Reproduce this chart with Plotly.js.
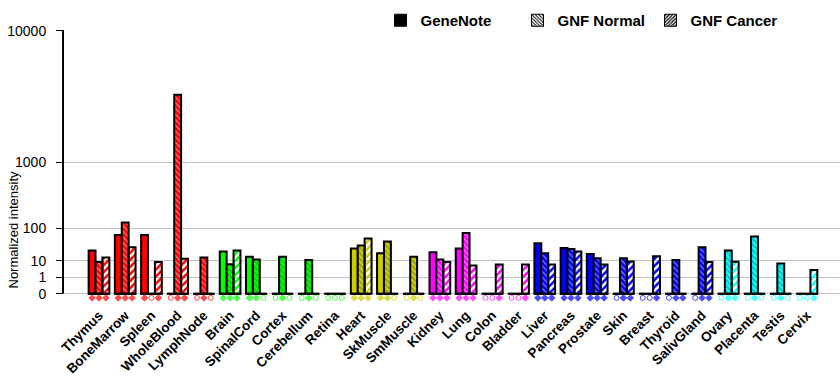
<!DOCTYPE html>
<html><head><meta charset="utf-8">
<script src="https://cdn.plot.ly/plotly-3.0.1.min.js"></script>
<style>html,body{margin:0;padding:0;background:#fff}</style>
</head><body><div id="chart" style="width:840px;height:385px"></div>
<script>
// ---------- data ----------
const tissues = ['Thymus','BoneMarrow','Spleen','WholeBlood','LymphNode','Brain','SpinalCord','Cortex','Cerebellum','Retina','Heart','SkMuscle','SmMuscle','Kidney','Lung','Colon','Bladder','Liver','Pancreas','Prostate','Skin','Breast','Thyroid','SalivGland','Ovary','Placenta','Testis','Cervix'];
const tissueSystem = ['immune','immune','immune','immune','immune','nervous','nervous','nervous','nervous','nervous','muscle','muscle','muscle','urogenital','urogenital','urogenital','urogenital','glandular','glandular','glandular','glandular','glandular','glandular','glandular','reproductive','reproductive','reproductive','reproductive'];
const systemColors = {immune:'#ff0000', nervous:'#00ff00', muscle:'#cccc00', urogenital:'#ff00ff', glandular:'#0000ff', reproductive:'#00ffff'};

const geneNote  = [25, 69, 69, 0, 0, 23, 15, 0, 0, 0, 29, 20, 0, 22, 29, 0, 0, 42, 30, 19, 0, 0, 0, 0, 0, 0, 0, 0];
const gnfNormal = [8.9, 131, 0, 3980, 14, 7.1, 11.5, 15, 11, 0, 36, 47, 15, 11.5, 77, 0, 0, 20, 28, 13, 13, 0, 11, 32, 25, 63, 7.6, 0];
const gnfCancer = [14, 32, 8.9, 12.3, 0, 25, 0, 0, 0, 0, 56, 0, 0, 8.9, 6.1, 6.8, 6.8, 6.8, 23, 6.8, 9.4, 15.7, 0, 8.9, 9.1, 0, 0, 3.4];

// presence calls (filled = present, open = absent)
const geneNotePresent  = [1,1,1,0,0, 1,1,0,0,0, 1,1,0, 1,1,0,0, 1,1,1,0,0,0,0, 0,0,0,0];
const gnfNormalPresent = [1,1,0,1,1, 1,1,1,1,0, 1,1,1, 1,1,0,0, 1,1,1,1,0,1,1, 1,1,1,0];
const gnfCancerPresent = [1,1,1,1,0, 1,0,0,0,0, 1,0,0, 1,1,1,1, 1,1,1,1,1,1,1, 1,0,0,1];

const yTickValues = [0, 1, 10, 100, 1000, 10000];
const yTickLabels = ['0', '1', '10', '100', '1000', '10000'];
const seriesNames = ['GeneNote', 'GNF Normal', 'GNF Cancer'];

// ---------- scale: power scale, each decade doubles ----------
const EXP = Math.log10(2);
const f = v => Math.pow(v, EXP);

const idx = tissues.map((_, i) => i);
const colors = tissueSystem.map(s => systemColors[s]);
const BARGAP = 0.21;
const barW = (1 - BARGAP) / 3;
const FONT = 'Liberation Sans, Arial, sans-serif';
const Y_TOP = f(10000) + 0.06;
const MARK_ROW = -0.25;

const barLine = {color: 'black', width: 2};
const traces = [
  {type:'bar', x: idx, y: geneNote.map(f), name: seriesNames[0], showlegend:false,
   marker:{color: colors, line: barLine}, hoverinfo:'skip'},
  {type:'bar', x: idx, y: gnfNormal.map(f), name: seriesNames[1], showlegend:false,
   marker:{color: colors, line: barLine,
           pattern:{shape:'\\', fillmode:'overlay', fgcolor:'white', size:4, solidity:0.3}}, hoverinfo:'skip'},
  {type:'bar', x: idx, y: gnfCancer.map(f), name: seriesNames[2], showlegend:false,
   marker:{color: colors, line: barLine,
           pattern:{shape:'/', fillmode:'replace', fgcolor: colors, bgcolor:'white', size:5, solidity:0.5}}, hoverinfo:'skip'}
];

// presence markers below each bar
[geneNotePresent, gnfNormalPresent, gnfCancerPresent].forEach((pres, k) => {
  traces.push({
    type:'scatter', mode:'markers', showlegend:false, hoverinfo:'skip',
    x: idx.map(i => i + (k - 1) * barW),
    y: idx.map(() => MARK_ROW),
    marker:{
      symbol: pres.map(p => p ? 'diamond' : 'circle-open'),
      size: pres.map(p => p ? 5 : 5),
      color: colors,
      line:{color: colors, width: 1}
    }
  });
});

// legend entries (black swatches)
const legendPatterns = [null, {shape:'\\', fgcolor:'black', bgcolor:'white', size:3, solidity:0.4},
                              {shape:'/', fgcolor:'black', bgcolor:'white', size:3, solidity:0.5}];
seriesNames.forEach((n, k) => {
  const m = {color: k === 0 ? 'black' : 'white', line:{color:'black', width:1}};
  if (legendPatterns[k]) m.pattern = legendPatterns[k];
  traces.push({type:'bar', x:[5], y:[1], name:n, xaxis:'x2', yaxis:'y2',
               legend: k === 0 ? 'legend' : 'legend' + (k + 1), marker: m, hoverinfo:'skip'});
});

// per-tissue baseline segments + y axis line (from 0 up)
const shapes = idx.map(i => ({type:'line', xref:'x', yref:'y', x0:i - 0.41, x1:i + 0.41, y0:0, y1:0,
                              line:{color:'black', width:2}}));
shapes.push({type:'line', xref:'paper', yref:'y', x0:0, x1:0, y0:0, y1:Y_TOP, line:{color:'black', width:2}});

const legendBase = {xref:'container', yref:'container', xanchor:'left', yanchor:'middle', y: 1 - 20.5/385,
  orientation:'h', bgcolor:'rgba(0,0,0,0)', font:{family:FONT, size:15, weight:'bold', color:'black'}};

const layout = {
  width:840, height:385,
  margin:{l:63, r:0, t:30, b:83, autoexpand:false},
  paper_bgcolor:'white', plot_bgcolor:'white',
  barmode:'group', bargap:BARGAP, bargroupgap:0,
  font:{family:FONT, color:'black'},
  xaxis:{type:'linear', range:[-1.373, 28.26], tickmode:'array', tickvals: idx, ticktext: tissues,
         tickangle:-45, tickfont:{family:FONT, size:13.5, weight:'bold', color:'black'},
         showgrid:false, zeroline:false, showline:false, ticks:'', ticklabelstandoff:2},
  yaxis:{range:[MARK_ROW - 0.25, Y_TOP], tickmode:'array', tickvals: yTickValues.map(f), ticktext: yTickLabels,
         showline:false, ticks:'outside', ticklen:6, tickwidth:1, tickcolor:'black',
         showgrid:true, gridcolor:'#c0c0c0', gridwidth:1, zeroline:false,
         tickfont:{family:'Liberation Sans Narrow, Liberation Sans, Arial', size:14, color:'black'}, ticklabelstandoff:7},
  xaxis2:{overlaying:'x', visible:false, range:[0,1]},
  yaxis2:{overlaying:'y', visible:false, range:[0,1]},
  showlegend:true,
  legend: Object.assign({}, legendBase, {x: 380.5/840}),
  legend2: Object.assign({}, legendBase, {x: 517.5/840}),
  legend3: Object.assign({}, legendBase, {x: 650.5/840}),
  shapes: shapes,
  annotations:[{text:'Normalized intensity', xref:'paper', yref:'paper', x:(12.5-63)/777, y:(302-230)/272,
                xanchor:'center', yanchor:'middle', textangle:-90, showarrow:false,
                font:{family:FONT, size:13, color:'black'}}]
};

Plotly.newPlot('chart', traces, layout, {displayModeBar:false, staticPlot:true});
</script></body></html>
